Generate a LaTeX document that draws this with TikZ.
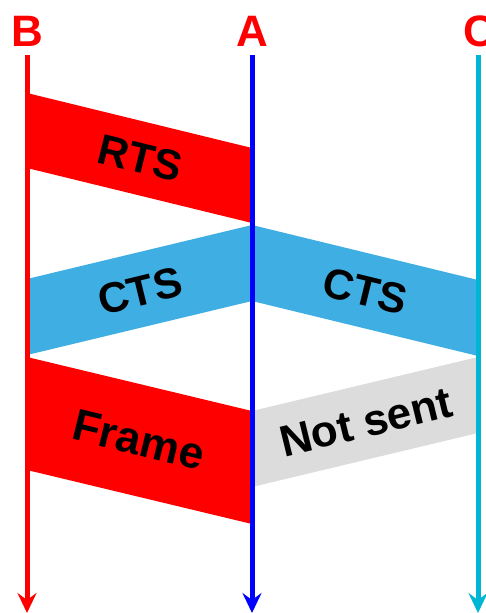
\documentclass[tikz,border=0pt]{standalone}
\usepackage{fontspec}
\setmainfont{Liberation Sans}
\usetikzlibrary{arrows.meta}
\definecolor{rtsred}{RGB}{255,0,0}
\definecolor{lineblue}{RGB}{0,0,255}
\definecolor{linecyan}{RGB}{0,182,212}
\definecolor{ctsblue}{RGB}{63,174,227}
\definecolor{notgray}{RGB}{220,220,220}
\tikzset{
  lifeline/.style={line width=5pt, -{Stealth[length=20pt,width=19pt,inset=7pt]}},
  station/.style={font=\fontsize{44}{44}\selectfont\bfseries, text=rtsred, inner sep=0pt},
  msg/.style={font=\fontsize{42.5}{42.5}\selectfont\bfseries, text=black, inner sep=0pt},
}
\begin{document}
\begin{tikzpicture}[x=1pt,y=-1pt]
\useasboundingbox (0,0) rectangle (485,613);
% message bands
\fill[rtsred] (27,93) -- (252,148) -- (252,223) -- (27,168) -- cycle;
\fill[ctsblue] (27,279) -- (252,225) -- (252,301) -- (27,355) -- cycle;
\fill[ctsblue] (252,225) -- (478,280) -- (478,356) -- (252,301) -- cycle;
\fill[rtsred] (27,357) -- (252,411) -- (252,524) -- (27,470) -- cycle;
\fill[notgray] (252,411) -- (478,357) -- (478,433) -- (252,487) -- cycle;
% labels on bands
\node[msg, rotate=-13.8] (rts) at (140,158) {RTS};
\node[msg, rotate=13.7] (cts1) at (140,291) {CTS};
\node[msg, rotate=-13.7] (cts2) at (365,291) {CTS};
\node[msg, rotate=-13.7, font=\fontsize{44.5}{44.5}\selectfont\bfseries] (frame) at (139,440) {Frame};
\node[msg, rotate=13.7, font=\fontsize{44}{44}\selectfont\bfseries] (notsent) at (366,422) {Not sent};
% station names
\node[station] (B) at (27,31) {B};
\node[station] (A) at (252,31) {A};
\node[station] (C) at (479,31) {C};
% lifelines
\coordinate (Btop) at (27,55);
\coordinate (Bbot) at (27,613);
\coordinate (Atop) at (252,55);
\coordinate (Abot) at (252,613);
\coordinate (Ctop) at (478,55);
\coordinate (Cbot) at (478,613);
\draw[lifeline, rtsred] (Btop) -- (Bbot);
\draw[lifeline, lineblue] (Atop) -- (Abot);
\draw[lifeline, linecyan] (Ctop) -- (Cbot);
\end{tikzpicture}
\end{document}
